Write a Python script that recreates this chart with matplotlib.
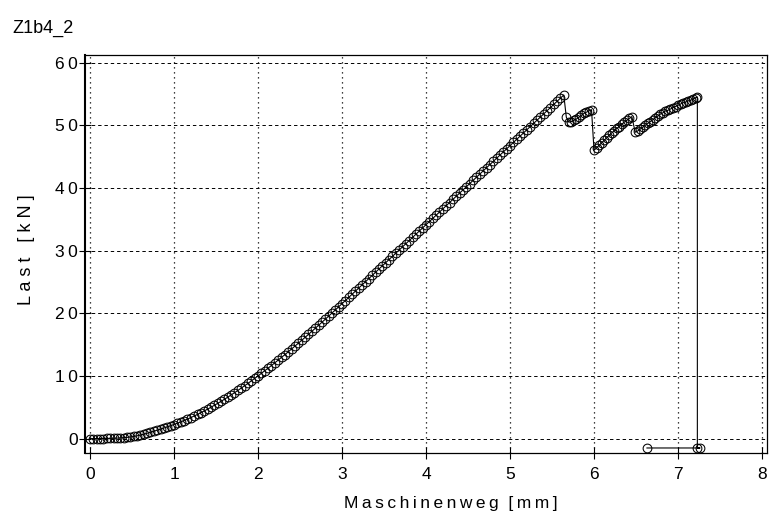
"""
Load-displacement curve (Z1b4_2): Last vs. Maschinenweg.
"""

import matplotlib
matplotlib.use("Agg")
import matplotlib.pyplot as plt

plt.rcParams.update({
    "font.family": ["Liberation Sans", "DejaVu Sans"],
    "font.size": 12,
})

TS = "\u2009"  # thin space, mimics the wide letter spacing of the plotter font


def spaced(s, sep=TS):
    return sep.join(s)


# rising branch
weg_rise = [
    0.00, 0.04, 0.08, 0.12, 0.16, 0.20, 0.24, 0.28, 0.32, 0.36,
    0.40, 0.44, 0.48, 0.52, 0.56, 0.60, 0.64, 0.68, 0.72, 0.76,
    0.80, 0.84, 0.88, 0.92, 0.96, 1.00, 1.04, 1.08, 1.12, 1.16,
    1.20, 1.24, 1.28, 1.32, 1.36, 1.40, 1.44, 1.48, 1.52, 1.56,
    1.60, 1.64, 1.68, 1.72, 1.76, 1.80, 1.84, 1.88, 1.92, 1.96,
    2.00, 2.04, 2.08, 2.12, 2.16, 2.20, 2.24, 2.28, 2.32, 2.36,
    2.40, 2.44, 2.48, 2.52, 2.56, 2.60, 2.64, 2.68, 2.72, 2.76,
    2.80, 2.84, 2.88, 2.92, 2.96, 3.00, 3.04, 3.08, 3.12, 3.16,
    3.20, 3.24, 3.28, 3.32, 3.36, 3.40, 3.44, 3.48, 3.52, 3.56,
    3.60, 3.64, 3.68, 3.72, 3.76, 3.80, 3.84, 3.88, 3.92, 3.96,
    4.00, 4.04, 4.08, 4.12, 4.16, 4.20, 4.24, 4.28, 4.32, 4.36,
    4.40, 4.44, 4.48, 4.52, 4.56, 4.60, 4.64, 4.68, 4.72, 4.76,
    4.80, 4.84, 4.88, 4.92, 4.96, 5.00, 5.04, 5.08, 5.12, 5.16,
    5.20, 5.24, 5.28, 5.32, 5.36, 5.40, 5.44, 5.48, 5.52, 5.56,
    5.60, 5.64,
]
last_rise = [
    0.00, 0.00, 0.00, 0.00, 0.01, 0.02, 0.03, 0.05, 0.07, 0.10,
    0.14, 0.19, 0.26, 0.34, 0.44, 0.56, 0.70, 0.85, 1.01, 1.17,
    1.34, 1.51, 1.69, 1.87, 2.05, 2.24, 2.45, 2.66, 2.88, 3.11,
    3.35, 3.60, 3.86, 4.13, 4.41, 4.70, 5.00, 5.31, 5.62, 5.94,
    6.27, 6.61, 6.96, 7.32, 7.68, 8.05, 8.43, 8.81, 9.20, 9.60,
    10.00, 10.41, 10.82, 11.24, 11.66, 12.09, 12.52, 12.96, 13.40, 13.85,
    14.30, 14.76, 15.22, 15.68, 16.15, 16.62, 17.10, 17.58, 18.06, 18.55,
    19.04, 19.53, 20.03, 20.53, 21.03, 21.53, 22.03, 22.53, 23.03, 23.53,
    24.04, 24.54, 25.05, 25.55, 26.06, 26.56, 27.07, 27.57, 28.08, 28.58,
    29.09, 29.59, 30.10, 30.60, 31.11, 31.61, 32.12, 32.62, 33.13, 33.63,
    34.14, 34.64, 35.15, 35.65, 36.16, 36.66, 37.17, 37.67, 38.18, 38.68,
    39.19, 39.69, 40.20, 40.70, 41.21, 41.71, 42.22, 42.72, 43.23, 43.73,
    44.24, 44.74, 45.25, 45.75, 46.26, 46.76, 47.27, 47.77, 48.28, 48.78,
    49.29, 49.79, 50.30, 50.80, 51.31, 51.81, 52.32, 52.82, 53.33, 53.83,
    54.34, 54.84,
]

# saw-tooth part after first crack and the final drop
weg_saw = [
    5.67, 5.70, 5.73, 5.76, 5.79, 5.82, 5.85, 5.88, 5.91, 5.94, 5.97,
    6.00, 6.03, 6.06, 6.09, 6.12, 6.15, 6.18, 6.21, 6.24, 6.27, 6.30,
    6.33, 6.36, 6.39, 6.42, 6.45,
    6.49, 6.52, 6.55, 6.58, 6.61, 6.64, 6.67, 6.70, 6.73, 6.76, 6.79,
    6.82, 6.85, 6.88, 6.91, 6.94, 6.97, 7.00, 7.03, 7.06, 7.09, 7.12,
    7.15, 7.18, 7.21, 7.23,
    7.23, 7.26, 6.63,
]
last_saw = [
    51.3, 50.5, 50.6, 50.8, 51.0, 51.3, 51.6, 51.9, 52.1, 52.3, 52.5,
    46.0, 46.4, 46.8, 47.2, 47.6, 48.0, 48.4, 48.8, 49.1, 49.5, 49.8,
    50.2, 50.5, 50.8, 51.1, 51.4,
    48.9, 49.1, 49.4, 49.7, 50.0, 50.3, 50.6, 50.9, 51.2, 51.5, 51.8,
    52.0, 52.3, 52.4, 52.6, 52.8, 53.0, 53.2, 53.4, 53.6, 53.7, 53.9,
    54.0, 54.2, 54.4, 54.5,
    -1.5, -1.5, -1.5,
]

x_ticks = [0, 1, 2, 3, 4, 5, 6, 7, 8]
y_ticks = [0, 10, 20, 30, 40, 50, 60]

weg = weg_rise + weg_saw
last = last_rise + last_saw

fig = plt.figure(figsize=(7.69, 5.18), dpi=100)
ax = fig.add_axes([0.1105, 0.1255, 0.887, 0.768])

ax.plot(weg, last, color="black", linewidth=0.8,
        marker="o", markersize=6.3, markerfacecolor="none",
        markeredgecolor="black", markeredgewidth=0.75)

ax.set_xlim(-0.06, 8.06)
ax.set_ylim(-2.3, 61.2)
ax.set_xticks(x_ticks)
ax.set_yticks(y_ticks)
ax.set_xticklabels([spaced(str(t)) for t in x_ticks])
ax.set_yticklabels([spaced(str(t)) for t in y_ticks])
ax.tick_params(direction="inout", length=8.5, width=0.8, labelsize=12.5)
ax.tick_params(axis="x", pad=6)
ax.tick_params(axis="y", pad=1)

# grid: dashed horizontal, dotted vertical
for y in y_ticks:
    ax.axhline(y, color="black", linestyle=(0, (3.5, 3)), linewidth=0.7, zorder=0)
for x in x_ticks:
    ax.axvline(x, color="black", linestyle=(0, (1, 3)), linewidth=0.9, zorder=0)

for side in ["left", "right", "top", "bottom"]:
    ax.spines[side].set_linewidth(0.9)
ax.spines["left"].set_linewidth(1.5)

ax.set_xlabel(spaced("Maschinenweg") + "  " + spaced("[mm]"), fontsize=12.5)
ax.xaxis.set_label_coords(0.537, -0.108)
ax.set_ylabel(spaced("Last", " ") + "   " + spaced("[kN]", " "), fontsize=13)
ax.yaxis.set_label_coords(-0.073, 0.51)

fig.text(0.016, 0.946, "Z1b4_2", fontsize=13, va="center")

fig.savefig("out.png", dpi=100)
